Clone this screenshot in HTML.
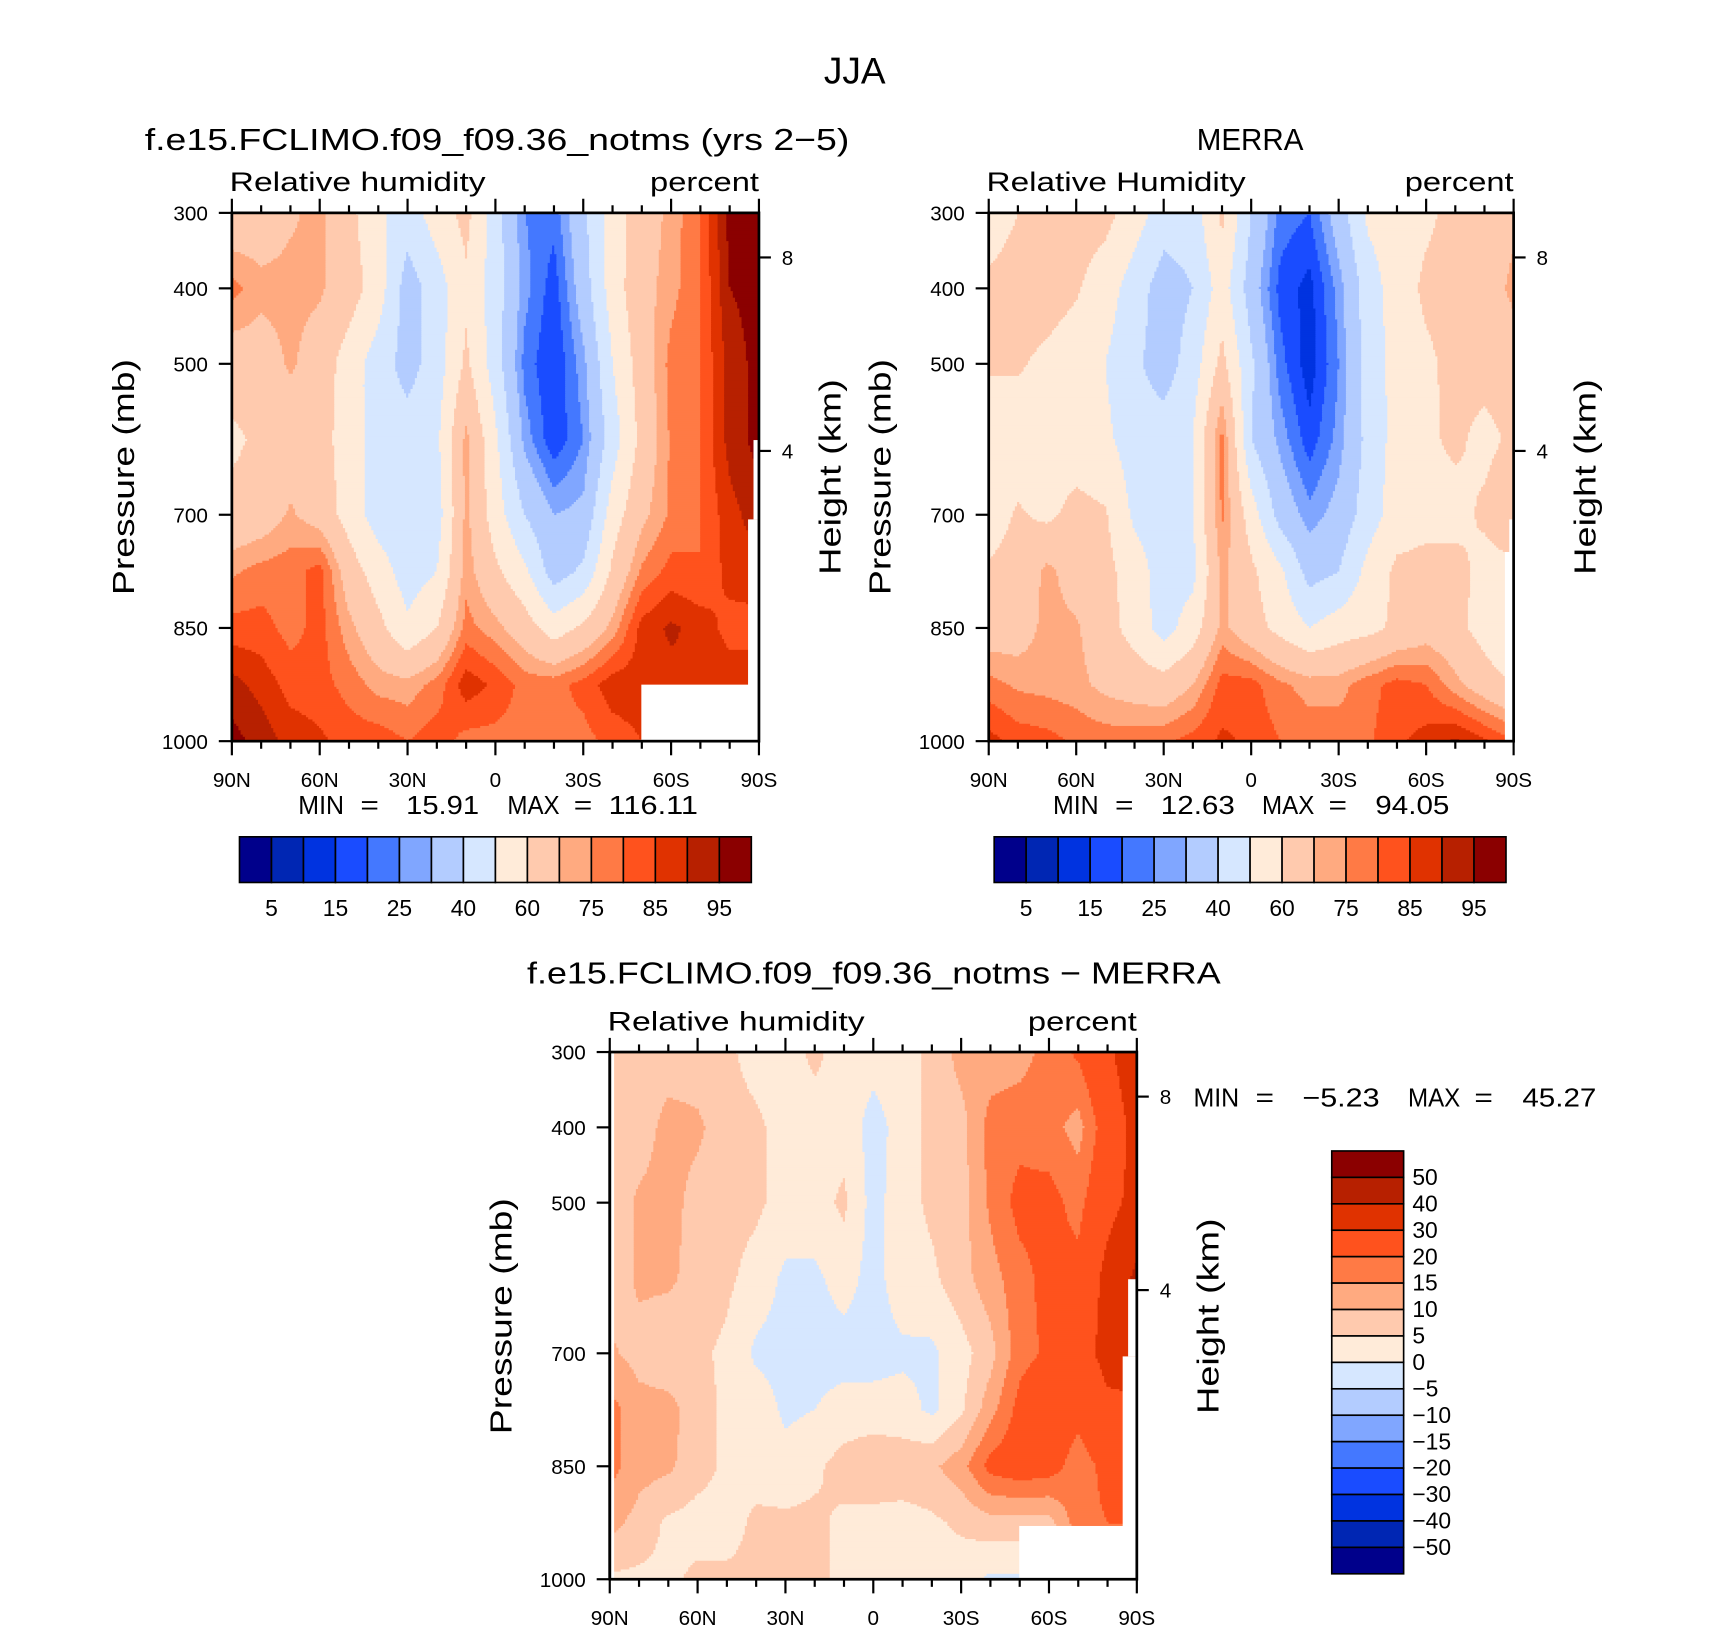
<!DOCTYPE html>
<html><head><meta charset="utf-8"><style>
html,body{margin:0;padding:0;background:#fff;}
svg{display:block;font-family:"Liberation Sans","DejaVu Sans",sans-serif;}
</style></head><body>
<svg id="fig" xmlns="http://www.w3.org/2000/svg" width="1710" height="1631" viewBox="0 0 1710 1631">
<rect width="1710" height="1631" fill="#fff"/>
<g id="root" transform="translate(1,2) scale(1.089,1.087)">
<text x="784" y="75" font-size="34" text-anchor="middle">JJA</text>
<text x="132" y="136" font-size="28" textLength="647" lengthAdjust="spacingAndGlyphs">f.e15.FCLIMO.f09_f09.36_notms (yrs 2−5)</text>
<text x="1098" y="136" font-size="28" textLength="98" lengthAdjust="spacingAndGlyphs">MERRA</text>
<text x="483" y="903" font-size="28" textLength="637" lengthAdjust="spacingAndGlyphs">f.e15.FCLIMO.f09_f09.36_notms − MERRA</text>
<g id="p1"></g>
<g id="p2"></g>
<g id="p3"></g>
</g>
</svg>
<script>
// ---- data ----
const lats = [90,80,70,60,50,40,30,20,10,0,-10,-20,-30,-40,-50,-60,-70,-80,-90];
const plevs = [300,400,500,600,700,775,850,925,1000];
const xTickLabels = ["90N","60N","30N","0","30S","60S","90S"];
const xTickLats = [90,60,30,0,-30,-60,-90];
const pTickLabels = ["300","400","500","700","850","1000"];
const pTickVals = [300,400,500,700,850,1000];
const hTickLabels = ["8","4"];
const absLevels = [5,10,15,20,25,30,40,50,60,70,75,80,85,90,95];
const absLabels = ["5","15","25","40","60","75","85","95"];
const diffLevels = [-50,-40,-30,-20,-15,-10,-5,0,5,10,15,20,30,40,50];
const diffLabels = ["50","40","30","20","15","10","5","0","−5","−10","−15","−20","−30","−40","−50"];
const palette = ["#00008b","#0026b3","#0033e0","#1a4cff","#4478ff","#80a6ff","#b3ccff","#d6e7ff","#ffebd9","#ffcaae","#ffaa80","#ff7a45","#ff521d","#e03200","#b72000","#8b0000"];
const modelRH = [
 [63,65,69,72,63,52,45,55,63,45,25,22,38,55,65,72,80,97,97],
 [77,72,72,71,65,55,35,45,58,45,27,17,35,55,67,73,80,95,97],
 [65,66,71,66,55,45,36,45,62,45,23,15,28,50,65,77,80,92,97],
 [58,62,65,64,55,45,45,48,72,52,28,16,25,45,63,76,80,92,97],
 [63,65,71,66,56,45,44,45,72,55,40,30,32,55,68,76,80,88,93],
 [74,77,78,82,65,55,45,50,73,62,52,35,42,62,76,82,80,87,88],
 [82,82,78,82,72,63,52,60,77,72,65,55,62,72,87,91,88,83,83],
 [92,88,83,82,78,73,72,77,88,84,78,78,82,88,88,88,90,88,88],
 [97,93,88,86,83,83,80,83,78,78,78,78,78,82,85,85,85,85,85]];
const merraRH = [
 [55,60,63,64,63,55,45,45,62,40,23,20,35,52,55,58,63,64,68],
 [62,64,64,61,55,45,35,40,55,35,18,13,27,45,55,62,64,65,72],
 [61,61,58,55,50,42,35,45,63,42,22,12,25,45,53,58,63,64,65],
 [55,55,55,55,52,45,45,50,77,40,28,17,27,43,54,58,62,57,62],
 [56,61,58,63,61,48,45,50,76,55,36,27,33,45,55,57,56,62,70],
 [61,63,72,66,63,55,45,47,72,62,52,36,40,53,62,63,64,56,56],
 [65,66,72,71,64,56,46,55,72,64,57,50,55,57,62,66,63,56,48],
 [77,74,73,72,68,66,64,70,82,82,76,73,73,78,82,80,72,65,60],
 [87,83,82,79,78,78,79,82,86,84,80,78,78,79,84,87,91,86,80]];
const diffRH = [
 [9,7,7,7,6,3,3,6,3,2,3,6,12,12,13,17,21,28,37],
 [7,7,12,11,7,6,3,3,3,-2,2,7,8,17,18,17,13,24,33],
 [6,11,12,8,7,6,3,3,6,-2,3,6,8,16,22,22,18,27,33],
 [6,11,11,8,6,3,-1,-1,2,-2,3,4,8,13,18,22,22,33,42],
 [11,8,6,6,4,-1,-2,-2,-2,-2,-1,-1,3,8,18,21,26,33,35],
 [17,12,12,7,4,3,-1,0,2,2,2,-1,4,13,22,26,22,28,28],
 [17,12,11,7,4,3,2,4,7,9,8,9,13,22,24,23,17,22,22],
 [12,8,4,3,3,6,6,6,4,3,3,4,6,8,8,8,18,20,20],
 [4,4,4,6,6,6,6,6,4,3,3,3,2,-1,-1,-1,-1,-1,-1]];

const NS = "http://www.w3.org/2000/svg";
function el(tag, attrs, parent){ const e=document.createElementNS(NS,tag); for(const k in attrs) e.setAttribute(k,attrs[k]); if(parent) parent.appendChild(e); return e; }

function levelIndex(v, levels){ let i=0; while(i<levels.length && v>=levels[i]) i++; return i; }
function sample(data, lat, p){
  let k=0; while(k<plevs.length-2 && p>plevs[k+1]) k++;
  const t=Math.max(0,Math.min(1,(p-plevs[k])/(plevs[k+1]-plevs[k])));
  let li=(lats[0]-lat)/10; let i=Math.min(Math.floor(li),lats.length-2); if(i<0)i=0;
  const u=Math.max(0,Math.min(1,li-i));
  const a=data[k][i]*(1-u)+data[k][i+1]*u, b=data[k+1][i]*(1-u)+data[k+1][i+1]*u;
  return a*(1-t)+b*t;
}

function panel(g, cfg){
  const {x0,y0,w,h,data,levels,masks} = cfg;
  const xs = lat => x0 + (90-lat)/180*w;
  const ys = p => y0 + (p-300)/700*h;
  const xinv = x => 90 - (x-x0)/w*180;
  const yinv = y => 300 + (y-y0)/h*700;
  const field = el("g",{},g);
  
  
  const step=2;
  for(let y=y0; y<y0+h; y+=step){
    let runStart=x0, runCi=null;
    const p=yinv(y+step/2);
    for(let x=x0; x<=x0+w; x+=step){
      let ci=null;
      if(x<x0+w){ ci=levelIndex(sample(data,xinv(x+step/2),p),levels); }
      if(ci!==runCi){
        if(runCi!==null){
          const r=el("rect",{x:runStart,y:y,width:(x-runStart)+0.6,height:step+0.6,fill:palette[runCi]},field);
          
          
        }
        runStart=x; runCi=ci;
      }
    }
  }
  el("rect",{x:x0+w,y:y0-2,width:8,height:h+4,fill:"#fff"},g);
  el("rect",{x:x0-2,y:y0+h,width:w+4,height:3,fill:"#fff"},g);
  masks.forEach(m=>{ const r=el("rect",{x:m[0],y:m[1],width:m[2]-m[0],height:m[3]-m[1],fill:"#fff"},g);
      });
  const fr=el("rect",{x:x0,y:y0,width:w,height:h,fill:"none",stroke:"#000","stroke-width":2.5},g);
   
  for(let lat=90; lat>=-90; lat-=10){
    const major = lat%30===0; const L=major?13:7; const x=xs(lat);
    el("line",{x1:x,y1:y0,x2:x,y2:y0-L,stroke:"#000","stroke-width":2},g);
    el("line",{x1:x,y1:y0+h,x2:x,y2:y0+h+L,stroke:"#000","stroke-width":2},g);
  }
  xTickLats.forEach((lat,i)=>{
    const t=el("text",{x:xs(lat),y:y0+h+42,"font-size":19,"text-anchor":"middle"},g); t.textContent=xTickLabels[i];
     
  });
  pTickVals.forEach((pv,i)=>{
    const y=ys(pv);
    el("line",{x1:x0,y1:y,x2:x0-12,y2:y,stroke:"#000","stroke-width":2},g);
    const t=el("text",{x:x0-22,y:y+7,"font-size":19,"text-anchor":"end"},g); t.textContent=pTickLabels[i];
     
  });
  [41,219].forEach((off,i)=>{
    const y=y0+off;
    el("line",{x1:x0+w,y1:y,x2:x0+w+11,y2:y,stroke:"#000","stroke-width":2},g);
    const t=el("text",{x:x0+w+21,y:y+7,"font-size":19},g); t.textContent=hTickLabels[i];
     
  });
  const yt=el("text",{x:0,y:0,"font-size":28,"text-anchor":"middle",textLength:217,lengthAdjust:"spacingAndGlyphs",transform:`translate(${x0-90},${y0+243}) rotate(-90)`},g);
  yt.textContent="Pressure (mb)";  
  const ht=el("text",{x:0,y:0,"font-size":28,"text-anchor":"middle",textLength:180,lengthAdjust:"spacingAndGlyphs",transform:`translate(${x0+w+75},${y0+243}) rotate(-90)`},g);
  ht.textContent="Height (km)";  
  const l=el("text",{x:x0-2,y:y0-20,"font-size":25,textLength:cfg.lw,lengthAdjust:"spacingAndGlyphs"},g); l.textContent=cfg.left;
   
  const r=el("text",{x:x0+w-100,y:y0-20,"font-size":25,textLength:100,lengthAdjust:"spacingAndGlyphs"},g); r.textContent="percent";
   
}

function hbar(g,x0,y0,w,h){
  const bw=w/16;
  for(let i=0;i<16;i++){
    const r=el("rect",{x:x0+i*bw,y:y0,width:bw,height:h,fill:palette[i],stroke:"#000","stroke-width":1.5},g);
     
  }
  absLabels.forEach((s,j)=>{
    const t=el("text",{x:x0+(1+2*j)*bw,y:y0+h+31,"font-size":21,"text-anchor":"middle"},g); t.textContent=s;
     
  });
}

const p1=document.getElementById('p1'), p2=document.getElementById('p2'), p3=document.getElementById('p3');
panel(p1,{x0:212,y0:194,w:484,h:486,data:modelRH,levels:absLevels,left:"Relative humidity",lw:235,
  masks:[[588,628,697,681],[686,476,697,681],[691,403,697,476]]});
panel(p2,{x0:907,y0:194,w:482,h:486,data:merraRH,levels:absLevels,left:"Relative Humidity",lw:238,
  masks:[[1381,506,1390,681],[1385,476,1390,506]]});
panel(p3,{x0:559,y0:966,w:484,h:485,data:diffRH,levels:diffLevels,left:"Relative humidity",lw:236,
  masks:[[935,1402,1044,1452],[1030,1246,1044,1452],[1035,1175,1044,1246],[559,966,563,1451]]});
el("line",{x1:559,y1:966,x2:559,y2:1451,stroke:"#000","stroke-width":2.5},p3);

function mm(g,x,y,parts){
  parts.forEach(pp=>{
    const t=el("text",{x:x+pp[1],y:y,"font-size":24,textLength:pp[2],lengthAdjust:"spacingAndGlyphs"},g); t.textContent=pp[0];
     
  });
}
mm(p1,273,747,[["MIN",0,42],["=",57,17],["15.91",99,67],["MAX",192,48],["=",253,17],["116.11",285,82]]);
mm(p2,966,747,[["MIN",0,42],["=",57,17],["12.63",99,68],["MAX",192,48],["=",253,17],["94.05",296,68]]);
mm(p3,1095,1016,[["MIN",0,42],["=",57,17],["−5.23",100,71],["MAX",197,48],["=",258,17],["45.27",302,68]]);

const cb1=el("g",{},p1);  
hbar(cb1,219,768,470,42);
const cb2=el("g",{},p2);  
hbar(cb2,912,768,470,42);
const cb3=el("g",{},p3);  
(function(){
  const x0=1222,y0=1057,w=66,h=389,bh=h/16;
  for(let i=0;i<16;i++){
    const r=el("rect",{x:x0,y:y0+i*bh,width:w,height:bh,fill:palette[15-i],stroke:"#000","stroke-width":1.5},cb3);
     
  }
  diffLabels.forEach((s,j)=>{
    const t=el("text",{x:1296,y:y0+(j+1)*bh+7,"font-size":21},cb3); t.textContent=s;
     
  });
})();
</script>
</body></html>
